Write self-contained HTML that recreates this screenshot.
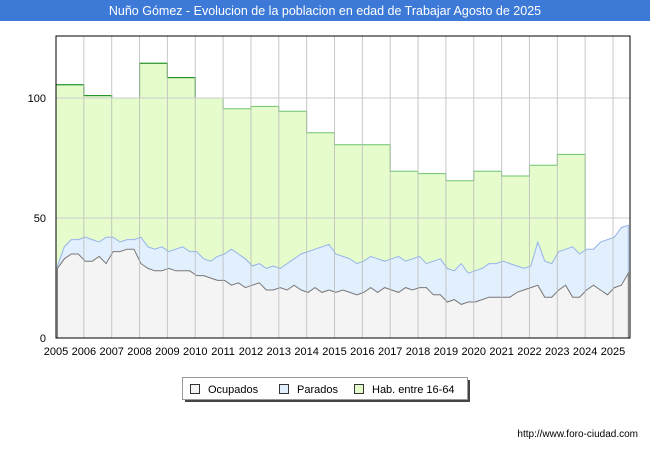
<!DOCTYPE html>
<html><head><meta charset="utf-8"><style>
body{margin:0;width:650px;height:450px;background:#fff;font-family:"Liberation Sans",sans-serif;overflow:hidden}
</style></head><body>
<svg width="650" height="450" xmlns="http://www.w3.org/2000/svg">
<rect x="0" y="0" width="650" height="21" fill="#3d7ad8"/>
<text x="325" y="15" text-anchor="middle" fill="#fff" font-size="12.5">Nuño Gómez - Evolucion de la poblacion en edad de Trabajar Agosto de 2025</text>
<g id="plot"></g>
<text x="638" y="437" text-anchor="end" font-size="10" fill="#000">http://www.foro-ciudad.com</text>
</svg>
<script>
const years=[2005,2006,2007,2008,2009,2010,2011,2012,2013,2014,2015,2016,2017,2018,2019,2020,2021,2022,2023];
const hab=[105.5,101,100,114.5,108.5,100,95.5,96.5,94.5,85.5,80.5,80.5,69.5,68.5,65.5,69.5,67.5,72,76.5];
const activos=[30,38,41,41,42,41,40,42,42,40,41,41,42,38,37,38,36,37,38,36,36,33,32,34,35,37,35,33,30,31,29,30,29,31,33,35,36,37,38,39,35,34,33,31,32,34,33,32,33,34,32,33,34,31,32,33,29,28,31,27,28,29,31,31,32,31,30,29,30,40,32,31,36,37,38,35,37,37,40,41,42,46,47];
const ocupados=[29,33,35,35,32,32,34,31,36,36,37,37,31,29,28,28,29,28,28,28,26,26,25,24,24,22,23,21,22,23,20,20,21,20,22,20,19,21,19,20,19,20,19,18,19,21,19,21,20,19,21,20,21,21,18,18,15,16,14,15,15,16,17,17,17,17,19,20,21,22,17,17,20,22,17,17,20,22,20,18,21,22,27];
const yTicks=[0,50,100];
const xLabels=[2005,2006,2007,2008,2009,2010,2011,2012,2013,2014,2015,2016,2017,2018,2019,2020,2021,2022,2023,2024,2025];
const X0=56,X1=630,Y0=338,Y1=36;
const xs=t=>X0+(t-2005)*27.85;
const ys=v=>Y0-v*2.4;
const NS='http://www.w3.org/2000/svg';
const g=document.getElementById('plot');
function mk(tag,attrs){const e=document.createElementNS(NS,tag);for(const k in attrs)e.setAttribute(k,attrs[k]);g.appendChild(e);return e;}
let bg=mk('rect',{x:X0,y:Y1,width:X1-X0,height:Y0-Y1,fill:'#fff'});


let hp='M'+xs(years[0])+','+Y0;
years.forEach((y,i)=>{hp+=' L'+xs(y)+','+ys(hab[i])+' L'+xs(y+1)+','+ys(hab[i]);});
hp+=' L'+xs(years[years.length-1]+1)+','+Y0+' Z';
let ha=mk('path',{d:hp,fill:'#e6fccc',stroke:'#6cc46c','stroke-width':1});


let dp='';
years.slice(0,5).forEach((y,i)=>{dp+=(i?' L':'M')+xs(y)+','+ys(hab[i])+' L'+xs(y+1)+','+ys(hab[i]);});
dp+=' L'+xs(2010)+','+ys(hab[5]);
let hl=mk('path',{d:dp,fill:'none',stroke:'#1a8a1a','stroke-width':1});


const tq=i=>2005+i*0.25+0.05;
let ap='M'+xs(tq(0))+','+Y0;activos.forEach((v,i)=>ap+=' L'+xs(tq(i))+','+ys(v));ap+=' L'+xs(tq(activos.length-1))+','+Y0+' Z';
let aa=mk('path',{d:ap,fill:'#e2effd',stroke:'#94b4e8','stroke-width':1});


let op='M'+xs(tq(0))+','+Y0;ocupados.forEach((v,i)=>op+=' L'+xs(tq(i))+','+ys(v));op+=' L'+xs(tq(ocupados.length-1))+','+Y0+' Z';
let oa=mk('path',{d:op,fill:'#f4f4f4',stroke:'#777','stroke-width':1});


xLabels.forEach(y=>{
 if(y>2005){let l=mk('line',{x1:xs(y),x2:xs(y),y1:Y1,y2:Y0,stroke:'#bbb','stroke-width':1,opacity:0.8});
 }
 let t=mk('text',{x:xs(y),y:Y0+17,'text-anchor':'middle','font-size':11,fill:'#000'});t.textContent=y;
 
});
yTicks.forEach(v=>{
 if(v>0){let l=mk('line',{x1:X0,x2:X1,y1:ys(v),y2:ys(v),stroke:'#ccc','stroke-width':1});
 }
 let t=mk('text',{x:X0-10,y:ys(v)+4,'text-anchor':'end','font-size':11,fill:'#000'});t.textContent=v;
 
});
let fr=mk('rect',{x:X0,y:Y1,width:X1-X0,height:Y0-Y1,fill:'none',stroke:'#000','stroke-width':1});

let lb=mk('rect',{x:185,y:380,width:285,height:22,fill:'#444'});

let lg=mk('rect',{x:182.5,y:377.5,width:285,height:22,fill:'#fff',stroke:'#999'});

const leg=[['Ocupados','#f4f4f4',190],['Parados','#e2effd',279],['Hab. entre 16-64','#e6fccc',354]];
leg.forEach(([n,c,x])=>{
 let s=mk('rect',{x:x+0.5,y:384.5,width:9,height:9,fill:c,stroke:'#333'});
 
 let t=mk('text',{x:x+18,y:393,'font-size':11,fill:'#000'});t.textContent=n;
 
});
</script>
</body></html>
